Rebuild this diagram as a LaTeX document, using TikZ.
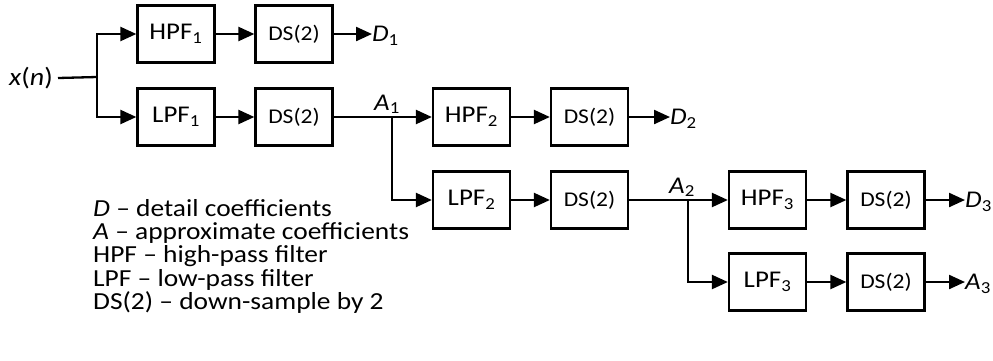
\documentclass[tikz,border=0pt]{standalone}
\usepackage{fontspec}
\setmainfont{Carlito}[FakeStretch=1.12]
\usetikzlibrary{arrows.meta}
\begin{document}
\begin{tikzpicture}[x=1pt,y=-1pt,
  blk/.style={draw,line width=2.3pt,minimum width=77pt,minimum height=57pt,inner sep=0pt,font=\fontsize{24}{27}\selectfont},
  dsblk/.style={blk,font=\fontsize{21}{25}\selectfont},
  conn/.style={line width=2.3pt},
  arr/.style={conn,-{Triangle[length=16pt,width=14pt]}},
  lbl/.style={inner sep=0pt,font=\fontsize{24}{27}\selectfont},
  legend/.style={inner sep=0pt,anchor=north west,align=left,font={\fontsize{24.5}{23.3}\selectfont\lineskiplimit=-30pt\lineskip=0pt}}]
\useasboundingbox (0,0) rectangle (993,360);
% input
\node[lbl,font=\fontsize{25}{28}\selectfont,anchor=east] (x) at (53,78) {\textit{x}(\textit{n})};
\coordinate (j0) at (97,77);
% stage 1
\node[blk] (h1) at (176,34) {HPF\textsubscript{1}};
\node[dsblk] (d1) at (294,34) {DS(2)};
\node[blk] (l1) at (176,117) {LPF\textsubscript{1}};
\node[dsblk] (dl1) at (294,117) {DS(2)};
\node[lbl,anchor=west] (D1) at (372,36) {\textit{D}\textsubscript{1}};
\coordinate (j1) at (392,117);
\node[lbl,anchor=south] (A1) at (387,114) {\textit{A}\textsubscript{1}};
% stage 2
\node[blk] (h2) at (471.5,117) {HPF\textsubscript{2}};
\node[dsblk] (d2) at (589.5,117) {DS(2)};
\node[blk] (l2) at (471.5,200) {LPF\textsubscript{2}};
\node[dsblk] (dl2) at (589.5,200) {DS(2)};
\node[lbl,anchor=west] (D2) at (670,119) {\textit{D}\textsubscript{2}};
\coordinate (j2) at (688,200);
\node[lbl,anchor=south] (A2) at (682,197) {\textit{A}\textsubscript{2}};
% stage 3
\node[blk] (h3) at (767.5,200) {HPF\textsubscript{3}};
\node[dsblk] (d3) at (886,200) {DS(2)};
\node[blk] (l3) at (767.5,282) {LPF\textsubscript{3}};
\node[dsblk] (dl3) at (886,282) {DS(2)};
\node[lbl,anchor=west] (D3) at (965,202) {\textit{D}\textsubscript{3}};
\node[lbl,anchor=west] (A3) at (965,284) {\textit{A}\textsubscript{3}};
% connectors
\draw[conn] (x.east) ++(5,0) -- (j0);
\draw[arr] (j0) |- (h1.west);
\draw[arr] (j0) |- (l1.west);
\draw[arr] (h1) -- (d1);
\draw[arr] (d1.east) -- (d1.east -| D1.west);
\draw[arr] (l1) -- (dl1);
\draw[conn] (dl1.east) -- (j1);
\draw[arr] (j1) -- (h2.west);
\draw[arr] (j1) |- (l2.west);
\draw[arr] (h2) -- (d2);
\draw[arr] (d2.east) -- (d2.east -| D2.west);
\draw[arr] (l2) -- (dl2);
\draw[conn] (dl2.east) -- (j2);
\draw[arr] (j2) -- (h3.west);
\draw[arr] (j2) |- (l3.west);
\draw[arr] (h3) -- (d3);
\draw[arr] (d3.east) -- (d3.east -| D3.west);
\draw[arr] (l3) -- (dl3);
\draw[arr] (dl3.east) -- (dl3.east -| A3.west);
% legend
\node[legend] (leg) at (93,199) {\textit{D} – detail coefficients\\
\textit{A} – approximate coefficients\\
HPF – high-pass filter\\
LPF – low-pass filter\\
DS(2) – down-sample by 2};
\end{tikzpicture}
\end{document}
